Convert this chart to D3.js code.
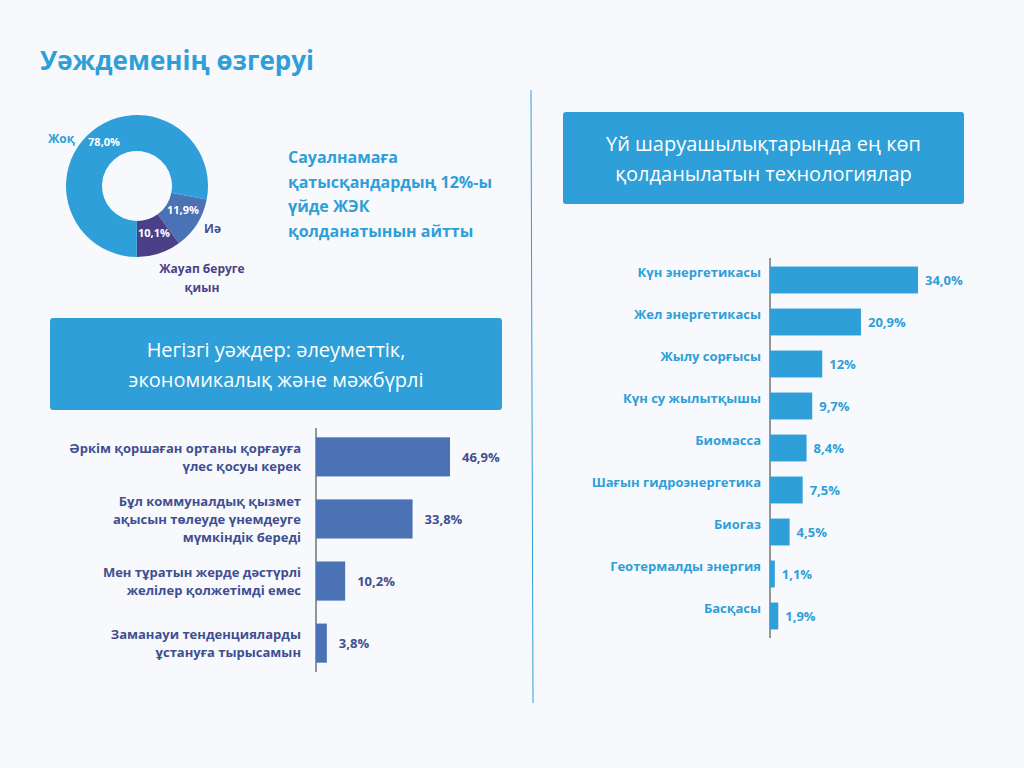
<!DOCTYPE html>
<html lang="kk">
<head>
<meta charset="utf-8">
<title>Уәждеменің өзгеруі</title>
<style>
body{margin:0;background:#f8f9fc;}
svg text{font-family:"Open Sans",Lato,sans-serif;}
</style>
</head>
<body>
<svg id="chart" width="1024" height="768"></svg>
<script src="https://d3js.org/d3.v7.min.js"></script>
<script>
// donut data
const pieLabels = ["Иә", "Жауап беруге қиын", "Жоқ"];
const pieValues = [11.9, 10.1, 78.0];
const pieText = ["11,9%", "10,1%", "78,0%"];
const pieColors = ["#4a72b5", "#4b3f88", "#2e9fd8"];

// motives
const motiveLabels = [
  ["Әркім қоршаған ортаны қорғауға", "үлес қосуы керек"],
  ["Бұл коммуналдық қызмет", "ақысын төлеуде үнемдеуге", "мүмкіндік береді"],
  ["Мен тұратын жерде дәстүрлі", "желілер қолжетімді емес"],
  ["Заманауи тенденцияларды", "ұстануға тырысамын"]
];
const motiveValues = [46.9, 33.8, 10.2, 3.8];
const motiveText = ["46,9%", "33,8%", "10,2%", "3,8%"];

// technologies
const techLabels = ["Күн энергетикасы", "Жел энергетикасы", "Жылу сорғысы", "Күн су жылытқышы",
  "Биомасса", "Шағын гидроэнергетика", "Биогаз", "Геотермалды энергия", "Басқасы"];
const techValues = [34.0, 20.9, 12, 9.7, 8.4, 7.5, 4.5, 1.1, 1.9];
const techText = ["34,0%", "20,9%", "12%", "9,7%", "8,4%", "7,5%", "4,5%", "1,1%", "1,9%"];

const blue = "#2e9fd8", navy = "#3f4f92";
const svg = d3.select("#chart");

svg.append("text").attr("x", 40).attr("y", 70).attr("fill", blue)
  .attr("font-size", 26).attr("font-weight", 700).text("Уәждеменің өзгеруі");

// donut
const cx = 137, cy = 186;
const pie = d3.pie().sort(null).startAngle(101 * Math.PI / 180).endAngle(101 * Math.PI / 180 + 2 * Math.PI);
const arcs = pie(pieValues);
const arc = d3.arc().innerRadius(35).outerRadius(71);
const g = svg.append("g").attr("transform", `translate(${cx},${cy})`);
g.selectAll("path").data(arcs).join("path").attr("d", arc).attr("fill", (d, i) => pieColors[i]);
const inPos = [[46, 28], [17, 51], [-33, -40]];
g.selectAll("text.v").data(arcs).join("text")
  .attr("x", (d, i) => inPos[i][0]).attr("y", (d, i) => inPos[i][1])
  .attr("text-anchor", "middle").attr("fill", "#fff").attr("font-size", 11).attr("font-weight", 700)
  .text((d, i) => pieText[i]);
svg.append("text").attr("x", 48).attr("y", 143).attr("fill", blue).attr("font-size", 12).attr("font-weight", 700).text(pieLabels[2]);
svg.append("text").attr("x", 204).attr("y", 233).attr("fill", navy).attr("font-size", 12).attr("font-weight", 700).text(pieLabels[0]);
svg.append("text").attr("x", 202).attr("y", 273).attr("text-anchor", "middle").attr("fill", "#4b3f88")
  .attr("font-size", 12).attr("font-weight", 700)
  .selectAll("tspan").data(["Жауап беруге", "қиын"]).join("tspan")
  .attr("x", 202).attr("dy", (d, i) => i ? 19 : 0).text(d => d);

svg.append("text").attr("x", 288).attr("y", 163).attr("fill", blue).attr("font-size", 16).attr("font-weight", 700)
  .selectAll("tspan").data(["Сауалнамаға", "қатысқандардың 12%-ы", "үйде ЖЭК", "қолданатынын айтты"]).join("tspan")
  .attr("x", 288).attr("dy", (d, i) => i ? 24.5 : 0).text(d => d);

// boxes
function box(x, y, w, h, lines) {
  svg.append("rect").attr("x", x).attr("y", y).attr("width", w).attr("height", h).attr("rx", 3).attr("fill", blue);
  svg.append("text").attr("text-anchor", "middle").attr("fill", "#fff").attr("font-size", 20)
    .selectAll("tspan").data(lines).join("tspan")
    .attr("x", x + w / 2).attr("y", (d, i) => y + h / 2 - 7 + i * 30).text(d => d);
}
box(50, 318, 452, 92, ["Негізгі уәждер: әлеуметтік,", "экономикалық және мәжбүрлі"]);
box(563, 112, 401, 92, ["Үй шаруашылықтарында ең көп", "қолданылатын технологиялар"]);

// divider
svg.append("line").attr("x1", 531).attr("x2", 533).attr("y1", 90).attr("y2", 703).attr("stroke", blue).attr("stroke-width", 1);

// left bars
const x1 = d3.scaleLinear().domain([0, 46.9]).range([316, 450]);
const y1 = d3.scaleBand().domain(d3.range(motiveValues.length)).range([428, 672]).paddingInner(0.37).paddingOuter(0.15);
svg.append("line").attr("x1", 316).attr("x2", 316).attr("y1", 428).attr("y2", 672).attr("stroke", "#333");
svg.selectAll("rect.m").data(motiveValues).join("rect").attr("class", "m")
  .attr("x", x1(0)).attr("y", (d, i) => y1(i)).attr("width", d => x1(d) - x1(0)).attr("height", y1.bandwidth())
  .attr("fill", "#4a72b5");
svg.selectAll("text.mv").data(motiveValues).join("text").attr("class", "mv")
  .attr("x", d => x1(d) + 12).attr("y", (d, i) => y1(i) + y1.bandwidth() / 2 + 5)
  .attr("fill", navy).attr("font-size", 13).attr("font-weight", 700).text((d, i) => motiveText[i]);
motiveLabels.forEach((lines, i) => {
  const c = y1(i) + y1.bandwidth() / 2;
  svg.append("text").attr("text-anchor", "end").attr("fill", navy).attr("font-size", 13).attr("font-weight", 700)
    .selectAll("tspan").data(lines).join("tspan")
    .attr("x", 301).attr("y", (d, j) => c + 5 + (j - (lines.length - 1) / 2) * 18).text(d => d);
});

// right bars
const x2 = d3.scaleLinear().domain([0, 34]).range([770, 918]);
const y2 = d3.scaleBand().domain(d3.range(techValues.length)).range([259, 637]).paddingInner(0.36).paddingOuter(0.18);
svg.append("line").attr("x1", 770).attr("x2", 770).attr("y1", 258).attr("y2", 638).attr("stroke", "#333");
svg.selectAll("rect.t").data(techValues).join("rect").attr("class", "t")
  .attr("x", x2(0)).attr("y", (d, i) => y2(i)).attr("width", d => x2(d) - x2(0)).attr("height", y2.bandwidth())
  .attr("fill", blue);
svg.selectAll("text.tv").data(techValues).join("text").attr("class", "tv")
  .attr("x", d => x2(d) + 7).attr("y", (d, i) => y2(i) + y2.bandwidth() / 2 + 5)
  .attr("fill", blue).attr("font-size", 13).attr("font-weight", 700).text((d, i) => techText[i]);
svg.selectAll("text.tl").data(techLabels).join("text").attr("class", "tl")
  .attr("x", 761).attr("y", (d, i) => y2(i) + y2.bandwidth() / 2 - 3).attr("text-anchor", "end")
  .attr("fill", blue).attr("font-size", 13).attr("font-weight", 700).text(d => d);
</script>
</body>
</html>
